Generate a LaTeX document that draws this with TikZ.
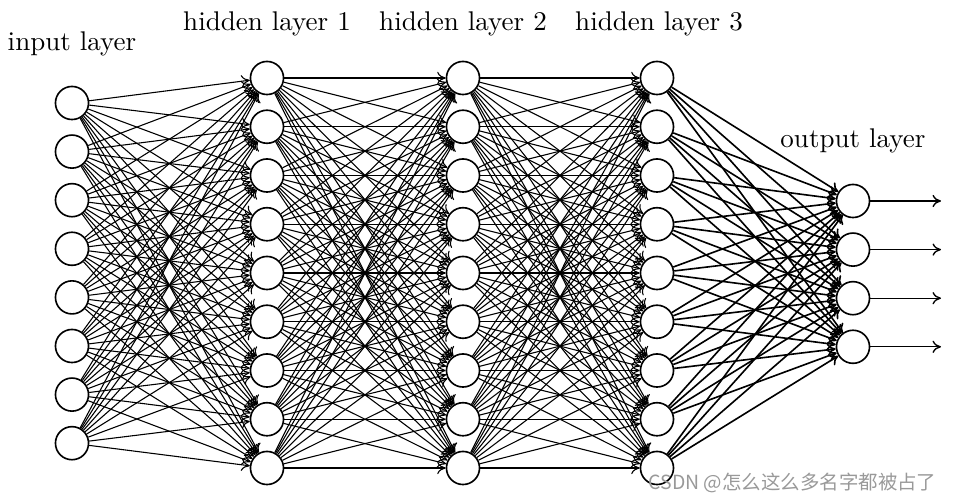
\documentclass[tikz,border=0pt]{standalone}
\usepackage{fontspec}
\newfontfamily\cjkfont{Noto Sans CJK SC}
\usetikzlibrary{arrows.meta}
\tikzset{>={To[length=1.1mm,width=1.6mm]}}
\tikzset{neuron/.style={draw=black, circle, fill=white, minimum size=0.43cm, inner sep=0pt, line width=0.6pt}}
\tikzset{weight/.style={->, line width=0.4pt}}

\begin{document}
\begin{tikzpicture}[x=0.013cm, y=-0.013cm]
    \useasboundingbox (0,0) rectangle (953,500);
    % neurons
    \foreach \i in {1,...,8}
        \node[neuron] (I-\i) at (72, {103+(\i-1)*48.6}) {};
    \foreach \l/\x in {1/267, 2/463, 3/657}
        \foreach \i in {1,...,9}
            \node[neuron] (H\l-\i) at (\x, {78+(\i-1)*48.75}) {};
    \foreach \i in {1,...,4}
        \node[neuron] (O-\i) at (853, {201+(\i-1)*48.6}) {};
    % layer names
    \node (lin) at (72,44) {input layer};
    \node (lh1) at (267,24) {hidden layer 1};
    \node (lh2) at (463,24) {hidden layer 2};
    \node (lh3) at (659,24) {hidden layer 3};
    \node (lout) at (853,141) {output layer};
    % weights
    \foreach \i in {1,...,8}
        \foreach \j in {1,...,9}
            \draw[weight] (I-\i) -- (H1-\j);
    \foreach \i in {1,...,9}
        \foreach \j in {1,...,9} {
            \draw[weight] (H1-\i) -- (H2-\j);
            \draw[weight] (H2-\i) -- (H3-\j);
        }
    \foreach \i in {1,...,9}
        \foreach \j in {1,...,4}
            \draw[weight, line width=0.6pt] (H3-\i) -- (O-\j);
    % outputs
    \foreach \i in {1,...,4} {
        \coordinate (Y-\i) at (941, {201+(\i-1)*48.6});
        \draw[->, line width=0.5pt] (O-\i) -- (Y-\i);
    }
    \node[text=black!40, font=\cjkfont\fontsize{7.2}{9}\selectfont, anchor=east, inner sep=0pt] (mark) at (937,483) {CSDN @怎么这么多名字都被占了};
\end{tikzpicture}
\end{document}
